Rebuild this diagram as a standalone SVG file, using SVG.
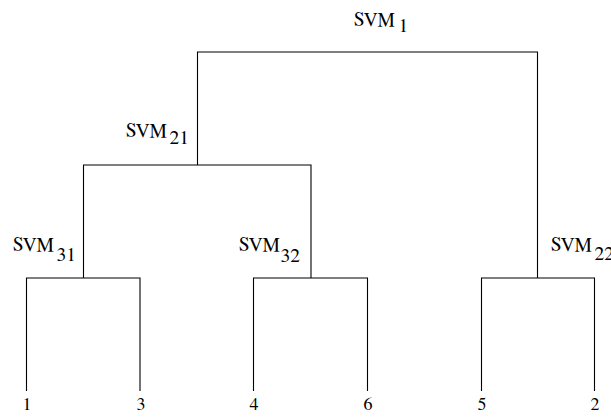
<svg xmlns="http://www.w3.org/2000/svg" width="611" height="417" viewBox="0 0 611 417">
  <style>
    .edge { fill: none; stroke: #000; stroke-width: 1.1; }
    text { font-family: "Nimbus Roman", "Nimbus Roman No9 L", "FreeSerif", "Times", "Liberation Serif", "DejaVu Serif", serif; fill: #000; }
    .lbl { font-size: 19.5px; }
    .leaf { font-size: 18px; text-anchor: middle; }
  </style>
  <rect width="611" height="417" fill="#fff"/>

  <!-- tree branches -->
  <g id="connectors">
    <path class="edge" d="M197.5,165 V52 H537.5 V278"/>
    <path class="edge" d="M83.5,278 V165 H311 V278"/>
    <path class="edge" d="M26.5,391 V278 H140 V391"/>
    <path class="edge" d="M253.5,391 V278 H367.5 V391"/>
    <path class="edge" d="M481.5,391 V278 H594.5 V391"/>
  </g>

  <!-- classifier nodes: name followed by a lowered index -->
  <g id="svm1">
    <text class="lbl" x="354" y="26">SVM<tspan dx="4" dy="6">1</tspan></text>
  </g>
  <g id="svm21">
    <text class="lbl" x="126" y="137">SVM<tspan dx="3" dy="7">21</tspan></text>
  </g>
  <g id="svm22">
    <text class="lbl" x="551" y="251">SVM<tspan dx="3" dy="9">22</tspan></text>
  </g>
  <g id="svm31">
    <text class="lbl" x="13" y="251">SVM<tspan dx="3" dy="10">31</tspan></text>
  </g>
  <g id="svm32">
    <text class="lbl" x="239" y="251">SVM<tspan dx="1" dy="11">32</tspan></text>
  </g>

  <!-- class leaves -->
  <g id="leaf1"><text class="leaf" x="27" y="410">1</text></g>
  <g id="leaf3"><text class="leaf" x="141" y="410">3</text></g>
  <g id="leaf4"><text class="leaf" x="254" y="410">4</text></g>
  <g id="leaf6"><text class="leaf" x="368" y="410">6</text></g>
  <g id="leaf5"><text class="leaf" x="482" y="410">5</text></g>
  <g id="leaf2"><text class="leaf" x="595" y="410">2</text></g>
</svg>
